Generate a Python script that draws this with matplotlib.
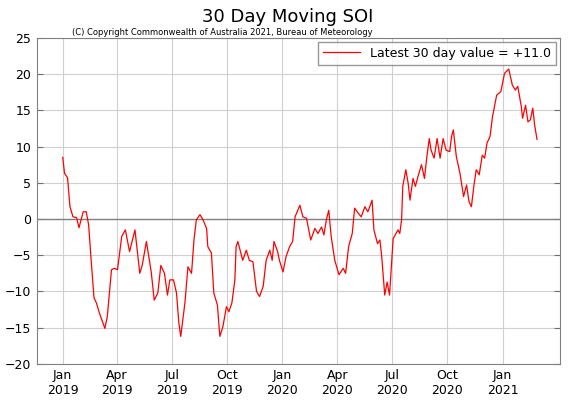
import numpy as np
import pandas as pd
import matplotlib
matplotlib.use("Agg")
import matplotlib.pyplot as plt

# days since 2019-01-01 and 30-day SOI values
days = [0, 3, 8, 12, 17, 23, 27, 34, 39, 43, 48, 52, 56, 61, 70, 74, 81, 86, 91, 98,
        104, 111, 120, 128, 132, 139, 147, 152, 158, 163, 169, 174, 178, 184, 189, 193,
        196, 203, 208, 214, 218, 222, 228, 233, 239, 241, 247, 251, 257, 261, 266, 272,
        276, 281, 286, 288, 291, 299, 305, 310, 316, 322, 327, 333, 338, 344, 348, 351,
        357, 360, 366, 371, 377, 382, 386, 394, 399, 405, 412, 419, 424, 430, 434, 438,
        442, 446, 452, 459, 466, 470, 475, 481, 485, 491, 496, 502, 507, 514, 517, 523,
        527, 530, 535, 539, 543, 549, 557, 560, 563, 565, 570, 574, 577, 582, 586, 590,
        596, 601, 605, 609, 612, 617, 622, 627, 632, 637, 643, 646, 649, 654, 660, 666,
        671, 675, 679, 683, 687, 692, 697, 701, 705, 710, 714, 721, 728, 734, 741, 747,
        752, 756, 762, 764, 769, 773, 777, 781, 784, 788]
soi = [8.5, 6.3, 5.7, 1.7, 0.3, 0.2, -1.2, 1.0, 1.0, -0.8, -6.6, -10.9, -11.6, -13.0, -15.1,
       -13.5, -7.0, -6.8, -7.0, -2.4, -1.5, -4.5, -1.5, -7.5, -6.4, -3.1, -7.3, -11.2, -10.2,
       -6.4, -7.5, -10.5, -8.4, -8.4, -10.2, -14.4, -16.2, -11.6, -6.6, -7.5, -2.9, -0.1,
       0.6, -0.1, -1.3, -3.8, -4.7, -10.2, -11.9, -16.2, -14.9, -12.1, -12.8, -11.6, -8.4,
       -3.8, -3.1, -5.7, -4.3, -5.7, -5.9, -10.0, -10.7, -9.3, -5.7, -4.3, -5.7, -3.1, -4.5,
       -5.7, -7.3, -5.2, -3.8, -3.1, 0.3, 1.9, 0.3, 0.1, -2.9, -1.3, -2.0, -1.1, -2.2, -0.1,
       1.2, -2.4, -5.7, -7.7, -6.8, -7.5, -3.8, -2.0, 1.5, 0.8, 0.3, 1.7, 1.0, 2.6, -1.5,
       -3.4, -2.9, -5.2, -10.5, -8.7, -10.5, -2.7, -1.5, -2.0, -0.1, 4.5, 6.8, 4.9, 2.6, 5.6,
       4.5, 5.8, 7.5, 5.6, 8.6, 11.1, 9.5, 8.4, 11.1, 8.4, 11.1, 9.5, 9.3, 11.4, 12.3, 8.6,
       6.3, 3.1, 4.7, 2.4, 1.7, 4.5, 6.8, 6.1, 8.8, 8.4, 10.5, 11.4, 14.1, 17.1, 17.6, 20.1,
       20.7, 18.5, 17.8, 18.3, 15.5, 13.9, 15.7, 13.4, 13.7, 15.3, 13.0, 11.0]
tick_labels = ["Jan\n2019", "Apr\n2019", "Jul\n2019", "Oct\n2019", "Jan\n2020",
               "Apr\n2020", "Jul\n2020", "Oct\n2020", "Jan\n2021"]
tick_dates = pd.date_range("2019-01-01", periods=9, freq="QS")

start = pd.Timestamp("2019-01-01")
dates = start + pd.to_timedelta(days, unit="D")

plt.rcParams["font.family"] = "DejaVu Sans"
fig = plt.figure(figsize=(5.76, 4.03), dpi=100)
ax = fig.add_axes([0.064, 0.097, 0.908, 0.809])

ax.plot(dates, soi, color="red", lw=0.9, label="Latest 30 day value = +11.0")
ax.axhline(0, color="#808080", lw=1, zorder=1)

ax.set_ylim(-20, 25)
ax.set_yticks(np.arange(-20, 26, 5))
ax.set_xlim(start - pd.Timedelta(days=43), start + pd.Timedelta(days=826))
ax.set_xticks(tick_dates)
ax.set_xticklabels(tick_labels)
ax.grid(color="#d0d0d0", lw=0.8)
ax.set_axisbelow(True)
ax.tick_params(labelsize=9, direction="in", length=0, pad=4)
ax.tick_params(axis="y", right=True, length=4, color="#707070")
for s in ax.spines.values():
    s.set_color("#808080")

ax.legend(loc="upper right", fontsize=9, frameon=True, fancybox=False,
          edgecolor="#808080", handlelength=3, borderaxespad=0.3)
fig.text(0.5, 0.945, "30 Day Moving SOI", ha="center", fontsize=13)
fig.text(0.125, 0.912, "(C) Copyright Commonwealth of Australia 2021, Bureau of Meteorology",
         fontsize=6)

fig.savefig("out.png", dpi=100)
